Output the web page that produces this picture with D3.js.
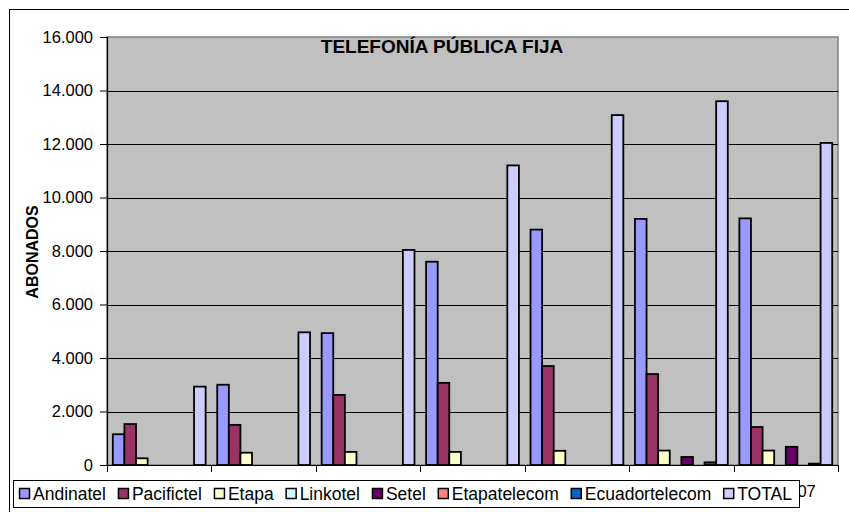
<!DOCTYPE html>
<html>
<head>
<meta charset="utf-8">
<script src="https://cdn.jsdelivr.net/npm/d3@7"></script>
<style>
  body { margin: 0; background: #fff; }
  svg { display: block; font-family: "Liberation Sans", Arial, sans-serif; }
</style>
</head>
<body>
<script>
// data
const categories = ["Dic-2001", "Dic-2002", "Dic-2003", "Dic-2004", "Dic-2005", "Dic-2006", "Dic-2007"];
const seriesNames = ["Andinatel", "Pacifictel", "Etapa", "Linkotel", "Setel", "Etapatelecom", "Ecuadortelecom", "TOTAL"];
const andinatel = [1150, 3000, 4930, 7600, 8800, 9200, 9220];
const pacifictel = [1530, 1500, 2620, 3070, 3700, 3400, 1420];
const etapa = [250, 460, 490, 490, 530, 540, 540];
const linkotel = [null, null, null, null, null, null, 0];
const setel = [null, null, null, null, null, 300, 680];
const etapatelecom = [null, null, null, null, null, null, 0];
const ecuadortelecom = [null, null, null, null, null, 100, 50];
const total = [2930, 4960, 8040, 11200, 13080, 13600, 12040];
const yTicks = [0, 2000, 4000, 6000, 8000, 10000, 12000, 14000, 16000];

const seriesValues = [andinatel, pacifictel, etapa, linkotel, setel, etapatelecom, ecuadortelecom, total];
const seriesColors = ["#9999FF", "#993366", "#FFFFCC", "#CCFFFF", "#660066", "#FF8080", "#0066CC", "#CCCCFF"];

const canvWidth = 849, canvHeight = 512;
const svg = d3.select("body").append("svg")
  .attr("width", canvWidth)
  .attr("height", canvHeight);

// outer chart border (runs off the picture)
svg.append("rect").attr("x", 9.5).attr("y", 9.5).attr("width", 900).attr("height", 600)
  .style("fill", "#fff").style("stroke", "#000").style("stroke-width", 1);

// plot area
const plot = {left: 107, right: 838, top: 37, bottom: 465};

const x = d3.scaleBand().domain(categories).range([plot.left, plot.right]).padding(0);
const bw = x.bandwidth() / 9;
const xs = d3.scaleBand().domain(seriesNames).range([bw / 2, x.bandwidth() - bw / 2]).padding(0);
const y = d3.scaleLinear().domain([0, 16000]).range([plot.bottom, plot.top]);

const locale = d3.formatLocale({decimal: ",", thousands: ".", grouping: [3], currency: ["", ""]});
const fmt = locale.format(",d");

svg.append("rect").attr("x", plot.left).attr("y", plot.top)
  .attr("width", plot.right - plot.left).attr("height", plot.bottom - plot.top)
  .style("fill", "#C0C0C0").style("stroke", "#808080").style("stroke-width", 1.5);

// gridlines
svg.append("g").selectAll("line").data(yTicks.filter(d => d > 0 && d < 16000)).enter().append("line")
  .attr("x1", plot.left).attr("x2", plot.right)
  .attr("y1", d => Math.round(y(d)) + 0.5).attr("y2", d => Math.round(y(d)) + 0.5)
  .style("stroke", "#000").style("stroke-width", 1);

// title
svg.append("text").text("TELEFONÍA PÚBLICA FIJA")
  .attr("x", 442).attr("y", 53)
  .attr("font-size", "19px").attr("font-weight", "bold")
  .style("text-anchor", "middle");

// bars
const groups = svg.append("g").selectAll("g").data(seriesNames).enter().append("g");
groups.each(function(name, si) {
  const rows = seriesValues[si].map((v, ci) => ({cat: categories[ci], v: v})).filter(d => d.v !== null);
  d3.select(this).selectAll("rect").data(rows).enter().append("rect")
    .attr("x", d => x(d.cat) + xs(name))
    .attr("width", xs.bandwidth())
    .attr("y", d => y(d.v))
    .attr("height", d => y(0) - y(d.v))
    .style("fill", seriesColors[si])
    .style("stroke", "#000").style("stroke-width", 1.8);
});

// y axis
const yAxis = svg.append("g").attr("transform", "translate(" + plot.left + ",0)")
  .call(d3.axisLeft(y).tickValues(yTicks).tickFormat(fmt).tickSize(7).tickPadding(7));
yAxis.selectAll("text").attr("font-size", "16.5px").attr("fill", "#000")
  .attr("font-family", "'Liberation Sans', Arial, sans-serif");
yAxis.selectAll("line").style("stroke", "#000");
yAxis.select(".domain").style("stroke", "#000").style("stroke-width", 1.2);

svg.append("text").text("ABONADOS")
  .attr("transform", "translate(38,252) rotate(-90)")
  .attr("font-size", "16px").attr("font-weight", "bold")
  .style("text-anchor", "middle");

// x axis: ticks on the category boundaries
const xAxis = svg.append("g");
xAxis.append("line").attr("x1", plot.left).attr("x2", plot.right)
  .attr("y1", plot.bottom + 0.5).attr("y2", plot.bottom + 0.5)
  .style("stroke", "#000").style("stroke-width", 1.2);
const bounds = categories.map(c => x(c)).concat([x(categories[categories.length - 1]) + x.bandwidth()]);
xAxis.selectAll(".tk").data(bounds).enter().append("line")
  .attr("x1", d => Math.round(d) + 0.5).attr("x2", d => Math.round(d) + 0.5)
  .attr("y1", plot.bottom).attr("y2", plot.bottom + 7)
  .style("stroke", "#000");
// category labels sit behind the legend, only the end of the last one shows
xAxis.selectAll("text").data(categories).enter().append("text").text(d => d)
  .attr("x", d => x(d) + x.bandwidth() / 2 - 3).attr("y", 497)
  .attr("font-size", "16.5px").style("text-anchor", "middle");

// legend, drawn on top of the category labels
const legend = svg.append("g");
const legLeft = 13, legRight = 799, legTop = 480.5, legBottom = 507.5;
legend.append("rect").attr("x", legLeft + 0.5).attr("y", legTop)
  .attr("width", legRight - legLeft).attr("height", legBottom - legTop)
  .style("fill", "#fff").style("stroke", "#000").style("stroke-width", 1);

const sw = 10, swGap = 4;
const items = legend.selectAll(".item").data(seriesNames).enter().append("g");
items.append("text").text(d => d).attr("font-size", "17.5px").attr("y", 500);
const widths = [];
items.select("text").each(function() { widths.push(this.getComputedTextLength()); });
const start = 19, end = 792;
const used = d3.sum(widths) + seriesNames.length * (sw + swGap);
const gap = (end - start - used) / (seriesNames.length - 1);
let cx = start;
items.each(function(name, i) {
  const g = d3.select(this);
  g.insert("rect", "text").attr("x", cx + 0.5).attr("y", 488.5).attr("width", sw).attr("height", sw)
    .style("fill", seriesColors[i]).style("stroke", "#000").style("stroke-width", 1.5);
  g.select("text").attr("x", cx + sw + swGap);
  cx += sw + swGap + widths[i] + gap;
});
</script>
</body>
</html>
